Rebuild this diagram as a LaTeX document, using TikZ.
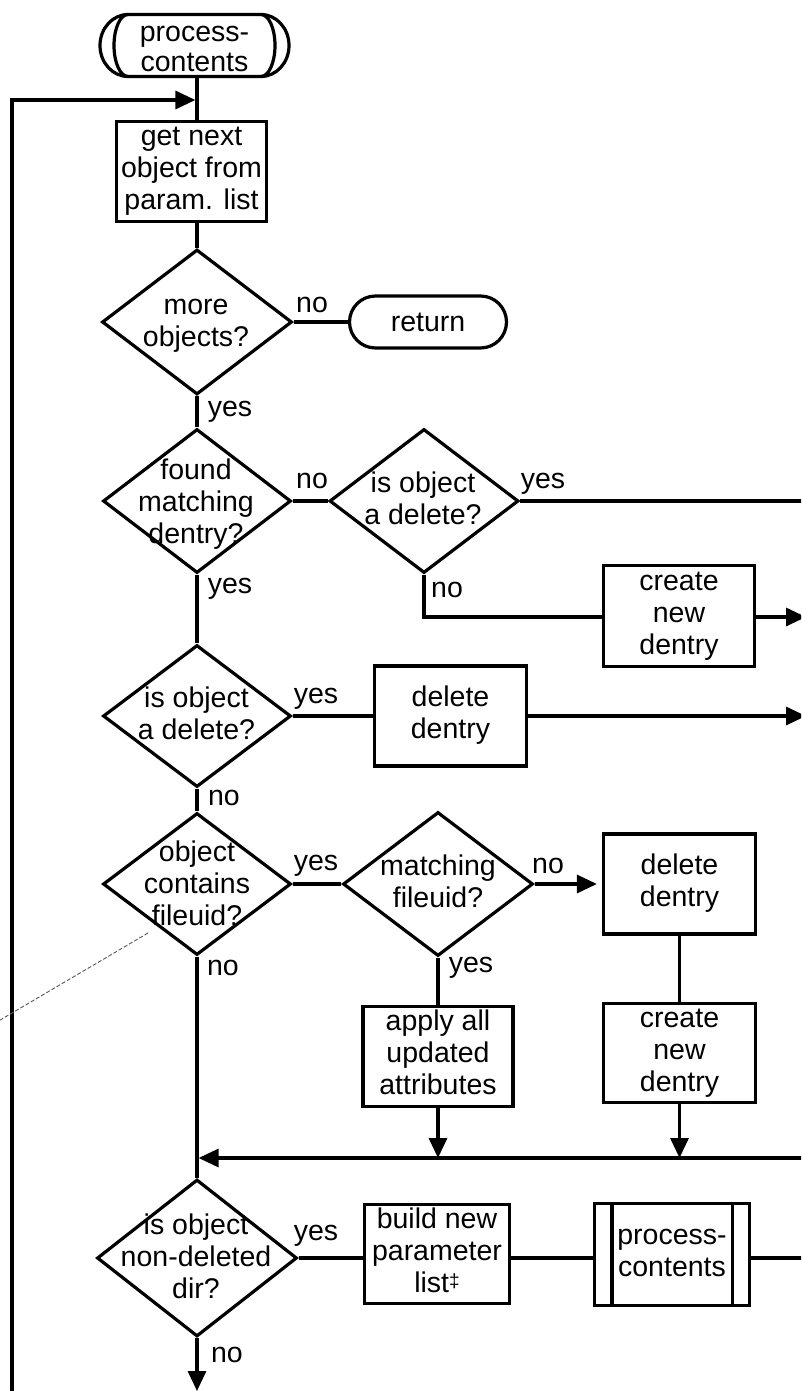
\documentclass[tikz,border=0pt]{standalone}
\usepackage{fontspec}
\setmainfont{Liberation Sans}
\usetikzlibrary{arrows.meta,shapes.geometric,calc}
\newcommand\chartfont{\fontsize{28.5}{32}\selectfont}
\begin{document}
\begin{tikzpicture}[x=1pt,y=-1pt, line width=3.2pt,
  box/.style={draw, rectangle, inner sep=0pt, align=center, font=\chartfont},
  dia/.style={draw, diamond, inner sep=0pt},
  txt/.style={inner sep=0pt, align=center, font=\chartfont},
  lab/.style={inner sep=0pt, anchor=base, font=\chartfont},
  arr/.style={-{Triangle[length=20pt,width=18pt]}},
  comment/.style={line width=0.9pt, gray!70!black, dash pattern=on 4pt off 2pt},
]
\useasboundingbox (0,0) rectangle (801,1391);
\clip (0,0) rectangle (801,1391);
\fill[white] (0,0) rectangle (801,1391);

% ---- nodes ----
\node[inner sep=0pt, outer sep=0pt, minimum width=133pt, minimum height=62pt] (start) at (194.5,45.5) {};
\draw (start.north west) -- (start.north east)
  arc[start angle=90, end angle=-90, x radius=28pt, y radius=31pt]
  -- (start.south west)
  arc[start angle=270, end angle=90, x radius=28pt, y radius=31pt] -- cycle;
\draw (start.north east) arc[start angle=90, end angle=-90, x radius=14pt, y radius=31pt];
\draw (start.north west) arc[start angle=90, end angle=270, x radius=14pt, y radius=31pt];
\node[txt, font=\fontsize{28.5}{30}\selectfont] (startt) at (194.5,51) {\strut process-\\\strut contents};

\node[box, minimum width=150pt, minimum height=100pt] (get) at (191.5,171.5)
  {\strut get next\\\strut object from\\\strut param. list};

\node[dia, minimum width=190pt, minimum height=145pt] (more) at (197,322) {};
\node[txt] (moret) at (196,324) {\strut more\\\strut objects?};

\node[draw, rounded corners=26pt, inner sep=0pt, minimum width=157pt, minimum height=52pt] (ret) at (428,322) {};
\node[lab] (rett) at (428,331) {return};

\node[dia, minimum width=188pt, minimum height=144pt] (found) at (197,501) {};
\node[txt] (foundt) at (196,505) {\strut found\\\strut matching\\\strut dentry?};

\node[dia, minimum width=189pt, minimum height=144pt] (isdel1) at (424,501) {};
\node[txt] (isdel1t) at (423,502) {\strut is object\\\strut a delete?};

\node[box, minimum width=151pt, minimum height=101pt] (create1) at (679,616)
  {\strut create\\\strut new\\\strut dentry};

\node[dia, minimum width=188pt, minimum height=142pt] (isdel2) at (197,716) {};
\node[txt] (isdel2t) at (196.5,717) {\strut is object\\\strut a delete?};

\node[box, minimum width=152pt, minimum height=100pt] (del1) at (450.5,716)
  {\strut delete\\\strut dentry};

\node[dia, minimum width=188pt, minimum height=142pt] (contains) at (197,884) {};
\node[txt] (containst) at (197,887) {\strut object\\\strut contains\\\strut fileuid?};

\node[dia, minimum width=190pt, minimum height=144pt] (matchfid) at (438,884) {};
\node[txt] (matchfidt) at (438,885) {\strut matching\\\strut fileuid?};

\node[box, minimum width=152pt, minimum height=100pt] (del2) at (679.5,884)
  {\strut delete\\\strut dentry};

\node[box, minimum width=150pt, minimum height=100pt] (apply) at (438,1056.5)
  {\strut apply all\\\strut updated\\\strut attributes};

\node[box, minimum width=152pt, minimum height=99pt] (create2) at (679.5,1053)
  {\strut create\\\strut new\\\strut dentry};

\node[dia, minimum width=200pt, minimum height=157pt] (nondel) at (197,1258) {};
\node[txt] (nondelt) at (196,1260) {\strut is object\\\strut non-deleted\\\strut dir?};

\node[box, minimum width=145pt, minimum height=99pt] (build) at (437,1254)
  {\strut build new\\\strut parameter\\\strut list\raisebox{5pt}{\fontsize{19}{19}\selectfont ‡}};

\node[box, minimum width=155pt, minimum height=102pt] (proc) at (672,1254.5)
  {\strut process-\\\strut contents};
\draw ([xshift=19pt]proc.north west) -- ([xshift=19pt]proc.south west);
\draw ([xshift=-19pt]proc.north east) -- ([xshift=-19pt]proc.south east);

% ---- labels ----
\node[lab] (l1) at (312,312) {no};
\node[lab] (l2) at (230,416) {yes};
\node[lab] (l3) at (312,488) {no};
\node[lab] (l4) at (543,488) {yes};
\node[lab] (l5) at (447,597) {no};
\node[lab] (l6) at (230,593) {yes};
\node[lab] (l7) at (316,703) {yes};
\node[lab] (l8) at (224,805) {no};
\node[lab] (l9) at (316,870) {yes};
\node[lab] (l10) at (548,873) {no};
\node[lab] (l11) at (471,972) {yes};
\node[lab] (l12) at (223,975) {no};
\node[lab] (l13) at (316,1240) {yes};
\node[lab] (l14) at (227,1362) {no};

% ---- coordinates ----
\coordinate (cx) at (197,0);
\coordinate (loopin) at (197,100);
\coordinate (lb) at (12,1400);
\coordinate (r1) at (810,501);
\coordinate (r2) at (806,617);
\coordinate (r3) at (806,716);
\coordinate (m) at (197,1158);
\coordinate (mr) at (810,1158);
\coordinate (r4) at (810,1258);
\coordinate (bot) at (197,1391);
\coordinate (dA) at (148,933);
\coordinate (dB) at (-5,1023);

% ---- connectors ----
\draw[arr, shorten >=1.6pt] (lb) |- (loopin);
\draw (start.south -| cx) -- (get.north -| cx);
\draw (get.south -| cx) -- (more.north);
\draw (more.east) -- (ret.west);
\draw (more.south) -- (found.north);
\draw (found.east) -- (isdel1.west);
\draw (isdel1.east) -- (r1);
\draw (isdel1.south) |- (create1.west |- r2);
\draw[arr] (create1.east |- r2) -- (r2);
\draw (found.south) -- (isdel2.north);
\draw (isdel2.east) -- (del1.west);
\draw[arr] (del1.east) -- (r3);
\draw (isdel2.south) -- (contains.north);
\draw (contains.east) -- (matchfid.west);
\draw[arr, shorten >=5pt] (matchfid.east) -- (del2.west);
\draw (del2.south) -- (create2.north);
\draw (matchfid.south) -- (apply.north);
\draw[arr] (apply.south) -- (apply.south |- m);
\draw[arr] (create2.south) -- (create2.south |- m);
\draw[arr, shorten >=1.6pt] (mr) -- (m);
\draw (contains.south) -- (nondel.north);
\draw (nondel.east) -- (nondel.east -| build.west);
\draw (build.east |- nondel.east) -- (proc.west |- nondel.east);
\draw (proc.east |- nondel.east) -- (r4);
\draw[arr] (nondel.south) -- (bot);
\draw[comment] (dA) -- (dB);
\end{tikzpicture}
\end{document}
